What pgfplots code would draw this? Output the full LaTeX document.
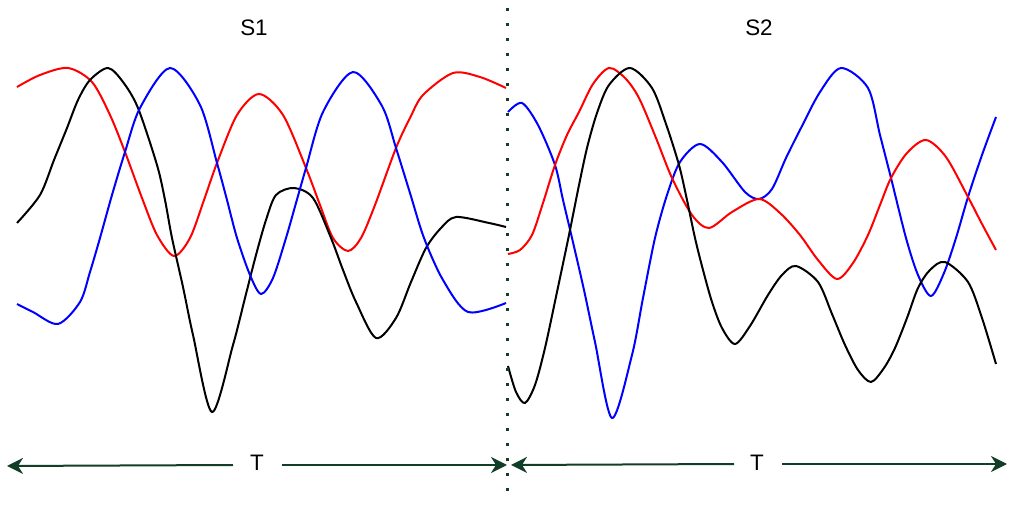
\documentclass[border=0pt]{standalone}
\usepackage{pgfplots}
\pgfplotsset{compat=1.18}
\usepackage{fontspec}
\setmainfont{Liberation Sans}
\usetikzlibrary{arrows.meta}
\definecolor{dkgreen}{HTML}{123D27}

\begin{document}
\begin{tikzpicture}
\begin{axis}[
    width=512pt, height=256.5pt,
    scale only axis,
    xmin=0, xmax=1024, ymin=0, ymax=513,
    y dir=reverse,
    hide axis,
    clip=false,
    every axis plot/.append style={line width=1pt},
]
% frame for the bounding box
\addplot[draw=none] coordinates {(0,0)(1024,513)};

% S1
\addplot[red, smooth] coordinates {
(17,87)(40,75)(68,68)(92,82)(110,115)(125,152)(142,198)(157,235)(174,256)(190,238)(204,200)(217,163)(237,115)(259,94)(283,115)(306,168)(320,205)(333,238)(348,251)(361,238)(375,205)(396,148)(410,118)(423,95)(453,73)(480,77)(506,88)};
\addplot[black, smooth] coordinates {
(17,223)(40,195)(54,160)(67,128)(78,100)(90,80)(108,68)(123,82)(138,108)(157,165)(165,200)(172,238)(183,287)(193,335)(212,412)(233,345)(245,298)(256,255)(266,220)(276,195)(294,188)(313,198)(331,238)(343,270)(356,302)(376,338)(396,318)(411,282)(426,248)(441,228)(456,217)(489,223)(506,227)};
\addplot[blue, smooth] coordinates {
(17,304)(33,312)(58,324)(80,302)(90,272)(100,238)(112,195)(125,152)(140,108)(170,68)(200,105)(217,163)(227,200)(237,238)(250,275)(261,294)(273,278)(286,238)(296,203)(306,168)(323,112)(353,72)(382,106)(396,148)(410,193)(424,238)(443,280)(468,312)(506,303)};

% S2
\addplot[blue, smooth] coordinates {
(508,112)(522,103)(538,125)(555,165)(563,200)(572,238)(584,290)(595,342)(612,418)(632,355)(643,298)(655,238)(667,195)(680,162)(700,144)(722,162)(745,192)(759,199)(772,189)(786,158)(801,128)(820,92)(841,68)(868,88)(880,135)(891,178)(906,238)(918,275)(931,296)(944,273)(956,238)(968,197)(982,155)(996,117)};
\addplot[red, smooth] coordinates {
(508,254)(520,250)(532,235)(543,203)(555,165)(567,135)(579,112)(593,84)(609,68)(625,78)(639,98)(656,138)(672,178)(692,215)(709,228)(732,212)(759,199)(780,213)(800,235)(818,260)(837,279)(853,263)(868,235)(880,205)(891,178)(907,153)(926,140)(946,157)(968,197)(982,224)(996,250)};
\addplot[black, smooth] coordinates {
(508,366)(516,392)(525,403)(535,385)(545,348)(557,292)(569,235)(578,190)(587,148)(597,113)(609,85)(630,68)(652,88)(666,124)(679,165)(687,200)(695,238)(703,270)(712,302)(722,328)(735,344)(750,326)(768,295)(782,275)(796,266)(818,282)(832,314)(845,345)(858,370)(871,382)(884,368)(895,348)(907,318)(918,288)(930,270)(945,262)(968,282)(982,318)(996,364)};

% separator
\addplot[dkgreen, line width=1.5pt, dash pattern=on 1.5pt off 6pt] coordinates {(507,8)(507,494)};

% T arrows
\addplot[dkgreen, {Stealth[length=8pt,width=8pt,inset=2.5pt]}-] coordinates {(7,466)(233,465)};
\addplot[dkgreen, -{Stealth[length=8pt,width=8pt,inset=2.5pt]}] coordinates {(282,465)(507,465)};
\addplot[dkgreen, {Stealth[length=8pt,width=8pt,inset=2.5pt]}-] coordinates {(511,465)(734,464)};
\addplot[dkgreen, -{Stealth[length=8pt,width=8pt,inset=2.5pt]}] coordinates {(782,464)(1007,464)};

\node[font=\fontsize{11.2}{13}\selectfont] at (axis cs:257,463) {T};
\node[font=\fontsize{11.2}{13}\selectfont] at (axis cs:757,463) {T};
\node[font=\fontsize{11.2}{13}\selectfont] at (axis cs:254,28) {S1};
\node[font=\fontsize{11.2}{13}\selectfont] at (axis cs:759,28) {S2};
\end{axis}
\end{tikzpicture}
\end{document}
